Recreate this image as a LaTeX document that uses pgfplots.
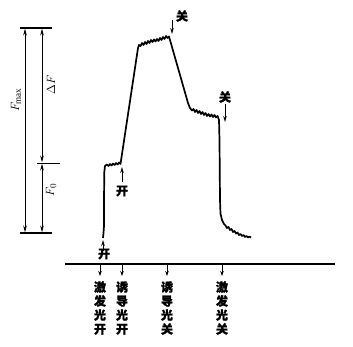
\documentclass[border=0pt]{standalone}
\usepackage{pgfplots}
\pgfplotsset{compat=1.18}
\usepackage{fontspec}
\newfontfamily\cjk[FakeBold=1.5]{Noto Sans CJK SC}
\setmainfont{Liberation Serif}
\usetikzlibrary{arrows.meta}
\newcommand{\cjkf}{\cjk\bfseries\fontsize{12}{14}\selectfont}
\begin{document}
\begin{tikzpicture}
\begin{axis}[
  scale only axis, width=353pt, height=347pt,
  xmin=0, xmax=353, ymin=0, ymax=347, y dir=reverse,
  axis lines=none, ticks=none, clip=false,
]
\path (axis cs:0,0) rectangle (axis cs:353,347);
% fluorescence trace
\addplot[black, line width=1.7pt, line join=round] coordinates {
(103,238) (103.5,233) (104,226) (104,200) (104.3,172) (105,166) (107,164.5) (108.5,166) (110,164) (111.5,165.5) (113,163.5) (114.5,165) (116,163) (117.5,164.5) (119,162.5) (120.5,164)
(138,48)
(139,45) (140.5,46) (142,43) (143.5,45) (145,42) (146.5,44) (148,41) (149.5,43) (151,40) (152.5,42) (154,39.5) (155.5,41.5) (157,39) (158.5,41) (160,38) (161.5,40) (163,37) (164.5,39) (166,36) (167.5,38) (169,36.5)
(188,103) (190,108) (192,110.5)
(193.5,109) (195,112) (196.5,110) (198,113) (199.5,111) (201,114) (202.5,112) (204,115) (205.5,113) (207,116) (208.5,114) (210,116.5) (211.5,114.5) (213,117) (214.5,115) (216,117.5) (217.5,116)
(219,120) (219.5,140) (220,200) (220.5,214) (222,220) (224,224)
(225.5,225.5) (227,228) (228.5,227) (230,230) (231.5,229) (233,232) (234.5,231) (236,233.5) (237.5,232.5) (239,235) (240.5,234) (242,236) (243.5,235) (245,237) (246.5,236) (248,237.5) (249.5,236.5) (251,237.5)
};
% baseline
\draw[black, line width=1.3pt] (axis cs:65,264) -- (axis cs:335,264);
% left scale
\draw[black, line width=1.1pt] (axis cs:20,28) -- (axis cs:52,28);
\draw[black, line width=1.1pt] (axis cs:20,233) -- (axis cs:52,233);
\draw[black, line width=0.5pt] (axis cs:37,163) -- (axis cs:60,163);
\draw[black, line width=1pt, {Stealth[length=7pt,width=3.5pt]}-{Stealth[length=7pt,width=3.5pt]}] (axis cs:25,28.5) -- (axis cs:25,232.5);
\draw[black, line width=1pt, {Stealth[length=7pt,width=3.5pt]}-{Stealth[length=7pt,width=3.5pt]}] (axis cs:42,28.5) -- (axis cs:42,162.5);
\draw[black, line width=1pt, {Stealth[length=7pt,width=3.5pt]}-{Stealth[length=7pt,width=3.5pt]}] (axis cs:42,163.5) -- (axis cs:42,232.5);
\node[rotate=90, font=\fontsize{13}{15}\selectfont] at (axis cs:16,100) {$F_{\mathrm{max}}$};
\node[rotate=90, font=\fontsize{13}{15}\selectfont] at (axis cs:51,85) {$\Delta F$};
\node[rotate=90, font=\fontsize{13}{15}\selectfont] at (axis cs:51,190) {$F_0$};
% on/off markers
\draw[black, line width=1pt, -{Stealth[length=6pt,width=3.5pt]}] (axis cs:103,251) -- (axis cs:103,240);
\node[font=\cjkf] at (axis cs:104,254) {开};
\draw[black, line width=1pt, -{Stealth[length=6pt,width=3.5pt]}] (axis cs:122,182) -- (axis cs:122,167);
\node[font=\cjkf] at (axis cs:122,191) {开};
\draw[black, line width=1pt, -{Stealth[length=6pt,width=3.5pt]}] (axis cs:172,20) -- (axis cs:172,34);
\node[font=\cjkf] at (axis cs:182,16) {关};
\draw[black, line width=1pt, -{Stealth[length=6pt,width=3.5pt]}] (axis cs:225,104) -- (axis cs:225,122);
\node[font=\cjkf] at (axis cs:225,97) {关};
% bottom event arrows
\draw[black, line width=1pt, -{Stealth[length=5pt,width=3.5pt]}] (axis cs:100,264) -- (axis cs:100,276);
\draw[black, line width=1pt, -{Stealth[length=5pt,width=3.5pt]}] (axis cs:122,264) -- (axis cs:122,276);
\draw[black, line width=1pt, -{Stealth[length=5pt,width=3.5pt]}] (axis cs:167,264) -- (axis cs:167,276);
\draw[black, line width=1pt, -{Stealth[length=5pt,width=3.5pt]}] (axis cs:222,264) -- (axis cs:222,276);
\node[font=\cjkf, align=center, inner sep=0pt] at (axis cs:100,308) {激\\发\\光\\开};
\node[font=\cjkf, align=center, inner sep=0pt] at (axis cs:122,308) {诱\\导\\光\\开};
\node[font=\cjkf, align=center, inner sep=0pt] at (axis cs:167,308) {诱\\导\\光\\关};
\node[font=\cjkf, align=center, inner sep=0pt] at (axis cs:222,308) {激\\发\\光\\关};
\end{axis}
\end{tikzpicture}
\end{document}
